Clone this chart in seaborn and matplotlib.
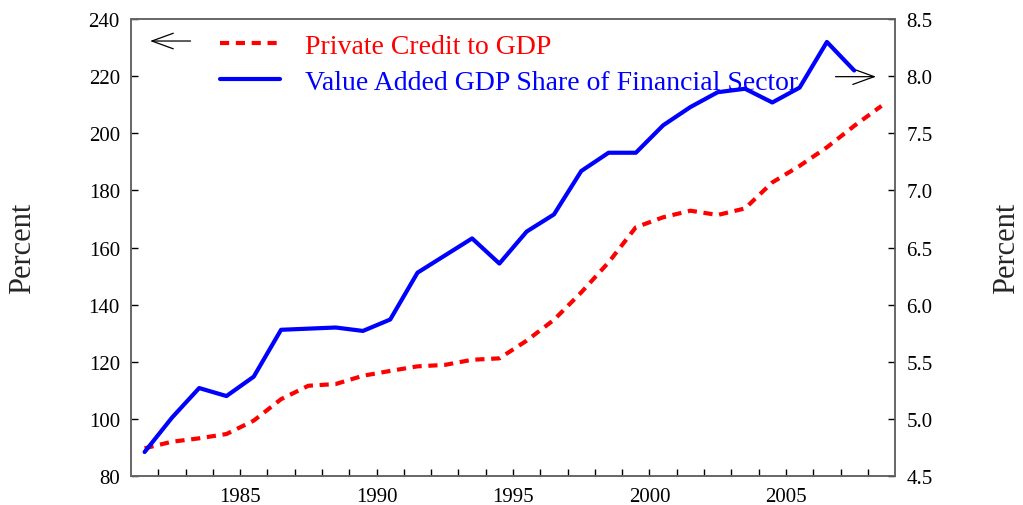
import numpy as np
import pandas as pd
import seaborn as sns
import matplotlib.pyplot as plt
from matplotlib.lines import Line2D

# annual data, plotted at mid-year
years_credit = list(range(1981, 2009))
private_credit = [89.7, 92.0, 93.2, 94.7, 99.4, 106.9, 111.6, 112.2, 115.1, 116.8,
                  118.4, 118.9, 120.7, 121.2, 127.4, 134.7, 144.3, 154.8, 167.1, 170.6,
                  172.9, 171.4, 173.7, 182.8, 188.6, 195.1, 202.6, 209.6]
years_share = list(range(1981, 2008))
fin_share = [4.71, 5.01, 5.27, 5.20, 5.37, 5.78, 5.79, 5.80, 5.77, 5.87,
             6.28, 6.43, 6.58, 6.36, 6.64, 6.79, 7.17, 7.33, 7.33, 7.57,
             7.73, 7.86, 7.89, 7.77, 7.90, 8.30, 8.05]
labels = ["Private Credit to GDP", "Value Added GDP Share of Financial Sector"]

credit_df = pd.DataFrame({"year": np.array(years_credit) + 0.5, "value": private_credit})
share_df = pd.DataFrame({"year": np.array(years_share) + 0.5, "value": fin_share})

sns.set_style("ticks")
plt.rcParams["font.family"] = ["Liberation Serif", "DejaVu Serif"]

fig = plt.figure(figsize=(10.23, 5.06), dpi=100)
ax = fig.add_axes([0.128, 0.0573, 0.747, 0.903])
ax2 = ax.twinx()

dash = (0, (2.2, 1.6))
sns.lineplot(data=credit_df, x="year", y="value", ax=ax, color="red",
             linewidth=3, linestyle=dash)
sns.lineplot(data=share_df, x="year", y="value", ax=ax2, color="blue", linewidth=3)

ax.set_xlim(1981, 2009)
ax.set_ylim(80, 240)
ax2.set_ylim(4.5, 8.5)
ax.set_xticks([1985, 1990, 1995, 2000, 2005])
ax.set_xticks(range(1982, 2009), minor=True)
ax.set_yticks(range(80, 241, 20))
ax2.set_yticks(np.arange(4.5, 8.51, 0.5))
ax2.set_yticklabels([f"{v:.1f}" for v in np.arange(4.5, 8.51, 0.5)])

for a in (ax, ax2):
    a.tick_params(axis="both", which="both", direction="in", length=5, width=1,
                  color="black", labelcolor="black", labelsize=15, pad=8)
    for s in a.spines.values():
        s.set_color("#666666")
        s.set_linewidth(1.2)

ax.set_xlabel("")
ax.set_ylabel("Percent", fontsize=22, labelpad=37)
ax2.set_ylabel("Percent", fontsize=22, labelpad=43)

handles = [Line2D([], [], color="red", linewidth=3, linestyle=dash),
           Line2D([], [], color="blue", linewidth=3)]
ax.legend(handles, labels, loc="upper left", bbox_to_anchor=(0.084, 1.024),
          frameon=False, prop={"size": 20},
          handlelength=2.15, handletextpad=0.9, labelspacing=0.38,
          labelcolor=["red", "blue"])

arrow = dict(arrowstyle="->,head_length=1.1,head_width=0.4", color="black", linewidth=0.9,
             mutation_scale=14, shrinkA=0, shrinkB=0)
ax.annotate("", xy=(0.025, 0.952), xytext=(0.078, 0.952), xycoords="axes fraction",
            arrowprops=arrow)
ax.annotate("", xy=(0.975, 0.874), xytext=(0.922, 0.874), xycoords="axes fraction",
            arrowprops=arrow)

fig.savefig("out.png", dpi=100)
